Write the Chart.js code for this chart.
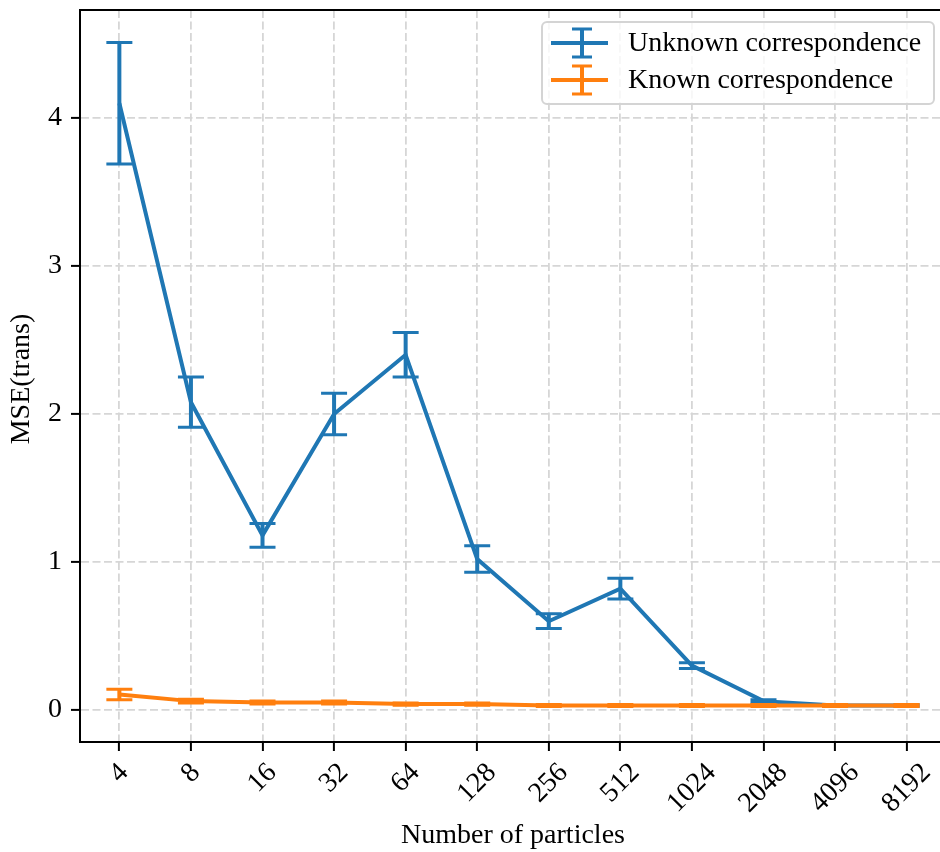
<!DOCTYPE html>
<html>
<head>
<meta charset="utf-8">
<script src="https://cdn.jsdelivr.net/npm/chart.js@4/dist/chart.umd.min.js"></script>
<style>
  html, body { margin: 0; padding: 0; background: #fff; overflow: hidden; }
  canvas { display: block; }
</style>
</head>
<body>
<canvas id="c" width="948" height="852"></canvas>
<script>
// Particle counts on the x axis
const particleLabels = ['4', '8', '16', '32', '64', '128', '256', '512', '1024', '2048', '4096', '8192'];

// Translation MSE, unknown correspondence (mean and error)
const unknownMse = [4.10, 2.08, 1.18, 2.00, 2.40, 1.02, 0.60, 0.82, 0.30, 0.06, 0.03, 0.03];
const unknownErr = [0.41, 0.17, 0.08, 0.14, 0.15, 0.09, 0.05, 0.07, 0.02, 0.01, 0.005, 0.005];

// Translation MSE, known correspondence (mean and error)
const knownMse = [0.105, 0.06, 0.05, 0.05, 0.04, 0.04, 0.03, 0.03, 0.03, 0.03, 0.03, 0.03];
const knownErr = [0.036, 0.012, 0.01, 0.01, 0.008, 0.008, 0.007, 0.007, 0.007, 0.007, 0.007, 0.007];

const yTicks = [0, 1, 2, 3, 4];

const FONT = '"Liberation Serif", "DejaVu Serif", serif';
const FONT_SIZE = 28;
const BLUE = '#1f77b4';
const ORANGE = '#ff7f0e';
const LINE_W = 4;

Chart.defaults.font.family = FONT;
Chart.defaults.font.size = FONT_SIZE;
Chart.defaults.color = '#000';

const toPoints = arr => arr.map((v, i) => ({ x: i, y: v }));

// Vertical error bars with caps, drawn right after each series line
const errorBars = {
  id: 'errorBars',
  afterDatasetDraw(chart, args) {
    const ds = chart.data.datasets[args.index];
    if (!ds.errors) return;
    const { ctx, scales: { x, y } } = chart;
    ctx.save();
    ctx.strokeStyle = ds.borderColor;
    ds.data.forEach((p, i) => {
      const e = ds.errors[i];
      const px = x.getPixelForValue(p.x);
      const y1 = y.getPixelForValue(p.y + e);
      const y2 = y.getPixelForValue(p.y - e);
      ctx.lineCap = 'butt';
      ctx.lineWidth = LINE_W;
      ctx.beginPath();
      ctx.moveTo(px, y1);
      ctx.lineTo(px, y2);
      ctx.stroke();
      ctx.lineWidth = 3;
      ctx.beginPath();
      ctx.moveTo(px - 13, y1); ctx.lineTo(px + 13, y1);
      ctx.moveTo(px - 13, y2); ctx.lineTo(px + 13, y2);
      ctx.stroke();
    });
    ctx.restore();
  }
};

// Frame, rotated category labels, axis titles and legend box
const decorations = {
  id: 'decorations',
  afterDraw(chart) {
    const { ctx, chartArea: a, scales: { x } } = chart;
    ctx.save();

    // top and right spines
    ctx.strokeStyle = '#000';
    ctx.lineWidth = 2;
    ctx.beginPath();
    ctx.moveTo(a.left, a.top); ctx.lineTo(a.right, a.top); ctx.lineTo(a.right, a.bottom);
    ctx.stroke();

    // x tick labels, rotated 45 degrees and centred under each tick
    ctx.font = `${FONT_SIZE}px ${FONT}`;
    ctx.fillStyle = '#000';
    ctx.textAlign = 'center';
    ctx.textBaseline = 'middle';
    const labelTop = a.bottom + 20;
    particleLabels.forEach((lbl, i) => {
      const w = ctx.measureText(lbl).width;
      const h = 18;
      const cx = x.getPixelForValue(i);
      const cy = labelTop + (w + h) * Math.SQRT1_2 / 2;
      ctx.save();
      ctx.translate(cx, cy);
      ctx.rotate(-Math.PI / 4);
      ctx.fillText(lbl, 0, 0);
      ctx.restore();
    });

    // axis titles
    ctx.fillText('Number of particles', (a.left + a.right) / 2, 836);
    ctx.save();
    ctx.translate(22, (a.top + a.bottom) / 2 + 3);
    ctx.rotate(-Math.PI / 2);
    ctx.fillText('MSE(trans)', 0, 0);
    ctx.restore();

    // legend
    const bx = 542, by = 22, bw = 392, bh = 82, r = 5;
    ctx.beginPath();
    ctx.moveTo(bx + r, by);
    ctx.arcTo(bx + bw, by, bx + bw, by + bh, r);
    ctx.arcTo(bx + bw, by + bh, bx, by + bh, r);
    ctx.arcTo(bx, by + bh, bx, by, r);
    ctx.arcTo(bx, by, bx + bw, by, r);
    ctx.closePath();
    ctx.fillStyle = 'rgba(255,255,255,0.8)';
    ctx.fill();
    ctx.strokeStyle = '#d4d4d4';
    ctx.lineWidth = 2;
    ctx.stroke();

    const entries = [
      { text: 'Unknown correspondence', color: BLUE, y: 43 },
      { text: 'Known correspondence', color: ORANGE, y: 80 }
    ];
    entries.forEach(en => {
      ctx.strokeStyle = en.color;
      ctx.lineWidth = LINE_W;
      ctx.beginPath();
      ctx.moveTo(551, en.y); ctx.lineTo(608, en.y);
      ctx.moveTo(582, en.y - 14); ctx.lineTo(582, en.y + 14);
      ctx.stroke();
      ctx.lineWidth = 3;
      ctx.beginPath();
      ctx.moveTo(572, en.y - 14); ctx.lineTo(592, en.y - 14);
      ctx.moveTo(572, en.y + 14); ctx.lineTo(592, en.y + 14);
      ctx.stroke();
      ctx.fillStyle = '#000';
      ctx.textAlign = 'left';
      ctx.fillText(en.text, 628, en.y + 1);
    });

    ctx.restore();
  }
};

const gridCommon = {
  color: '#d6d6d6',
  lineWidth: 1.8,
  drawTicks: true,
  tickLength: 9,
  tickColor: '#000',
  tickWidth: 2
};

new Chart(document.getElementById('c'), {
  type: 'line',
  data: {
    datasets: [
      {
        label: 'Unknown correspondence',
        data: toPoints(unknownMse),
        errors: unknownErr,
        borderColor: BLUE,
        borderWidth: LINE_W,
        pointRadius: 0,
        tension: 0,
        order: 1
      },
      {
        label: 'Known correspondence',
        data: toPoints(knownMse),
        errors: knownErr,
        borderColor: ORANGE,
        borderWidth: LINE_W,
        pointRadius: 0,
        tension: 0,
        order: 0
      }
    ]
  },
  options: {
    responsive: false,
    animation: false,
    devicePixelRatio: 1,
    layout: { autoPadding: false, padding: { left: 0, top: 10, right: 2, bottom: 0 } },
    plugins: { legend: { display: false }, tooltip: { enabled: false } },
    scales: {
      x: {
        type: 'linear',
        min: -0.55,
        max: particleLabels.length - 1 + 0.55,
        afterBuildTicks: s => { s.ticks = particleLabels.map((_, i) => ({ value: i })); },
        afterFit: s => { s.height = 110; s.paddingLeft = 0; s.paddingRight = 0; s.paddingTop = 0; s.paddingBottom = 0; },
        ticks: { display: false },
        grid: gridCommon,
        border: { display: true, color: '#000', width: 2, dash: [8, 3.5] }
      },
      y: {
        type: 'linear',
        min: -0.2162,
        max: 4.7297,
        afterBuildTicks: s => { s.ticks = yTicks.map(v => ({ value: v })); },
        afterFit: s => { s.width = 80; s.paddingTop = 0; s.paddingBottom = 0; s.paddingLeft = 0; s.paddingRight = 0; },
        ticks: { padding: 9, font: { size: FONT_SIZE, family: FONT }, color: '#000' },
        grid: gridCommon,
        border: { display: true, color: '#000', width: 2, dash: [8, 3.5] }
      }
    }
  },
  plugins: [errorBars, decorations]
});
</script>
</body>
</html>
